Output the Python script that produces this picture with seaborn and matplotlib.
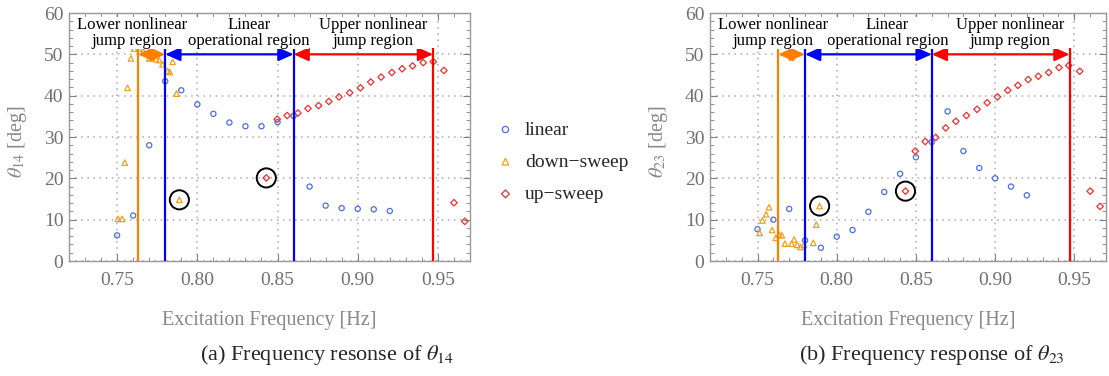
import numpy as np
import pandas as pd
import matplotlib
matplotlib.use("Agg")
import matplotlib.pyplot as plt
from matplotlib.ticker import MultipleLocator
import seaborn as sns

# theta_14 (left panel)
lin14_f = [0.75, 0.76, 0.77, 0.78, 0.79, 0.80, 0.81, 0.82, 0.83, 0.84, 0.85, 0.86,
           0.87, 0.88, 0.89, 0.90, 0.91, 0.92]
lin14_v = [6.2, 11.0, 28.0, 43.5, 41.3, 37.9, 35.6, 33.5, 32.6, 32.6, 33.6, 35.1,
           18.0, 13.4, 12.8, 12.6, 12.5, 12.1]
down14_f = [0.7506, 0.7531, 0.7548, 0.7565, 0.7586, 0.7606, 0.7638, 0.7665, 0.7700,
            0.7742, 0.7762, 0.7783, 0.7815, 0.7829, 0.7846, 0.7870, 0.7888]
down14_v = [10.2, 10.2, 23.8, 41.9, 49.0, 51.4, 51.4, 50.6, 49.0,
            48.8, 48.6, 47.6, 46.0, 45.7, 48.2, 40.5, 14.8]
up14_f = [0.8430, 0.8498, 0.8560, 0.8627, 0.8690, 0.8756, 0.8820, 0.8883, 0.8950,
          0.9017, 0.9081, 0.9146, 0.9213, 0.9277, 0.9342, 0.9408, 0.9471, 0.9537,
          0.9600, 0.9667]
up14_v = [20.1, 34.3, 35.2, 35.8, 36.9, 37.6, 38.6, 39.7, 40.7,
          41.9, 43.3, 44.5, 45.6, 46.5, 47.2, 48.0, 48.2, 46.1,
          14.1, 9.6]
circled14 = [(0.7888, 14.8), (0.8430, 20.1)]

# theta_23 (right panel)
lin23_f = [0.75, 0.76, 0.77, 0.78, 0.79, 0.80, 0.81, 0.82, 0.83, 0.84, 0.85, 0.86,
           0.87, 0.88, 0.89, 0.90, 0.91, 0.92]
lin23_v = [7.7, 10.0, 12.6, 5.0, 3.2, 5.9, 7.5, 11.9, 16.7, 21.1, 25.1, 28.8,
           36.2, 26.6, 22.5, 20.0, 18.0, 15.9]
down23_f = [0.7513, 0.7531, 0.7554, 0.7573, 0.7592, 0.7615, 0.7636, 0.7654, 0.7673,
            0.7715, 0.7731, 0.7750, 0.7771, 0.7794, 0.7852, 0.7871, 0.7892]
down23_v = [6.8, 9.8, 11.3, 13.0, 7.5, 5.6, 6.4, 6.2, 4.2,
            4.2, 5.2, 3.9, 3.4, 3.9, 4.4, 8.8, 13.3]
up23_f = [0.8434, 0.8496, 0.8559, 0.8625, 0.8688, 0.8752, 0.8819, 0.8886, 0.8950,
          0.9015, 0.9080, 0.9144, 0.9209, 0.9273, 0.9338, 0.9403, 0.9465, 0.9534,
          0.9600, 0.9663]
up23_v = [16.9, 26.6, 28.9, 29.9, 32.2, 33.8, 35.2, 36.7, 38.3,
          39.7, 41.3, 42.5, 43.9, 44.7, 45.6, 46.8, 47.3, 45.9,
          16.9, 13.2]
circled23 = [(0.7892, 13.3), (0.8434, 16.9)]

# region boundaries and labels
bounds = [0.763, 0.78, 0.86, 0.947]
bound_colors = ['#ff8000', '#0000ff', '#0000ff', '#ff0000']
region_x = [0.7595, 0.832, 0.9095]
region_text = ['Lower nonlinear\njump region', 'Linear\noperational region',
               'Upper nonlinear\njump region']
arrow_spans = [(0.763, 0.78, '#ff8000'), (0.78, 0.86, '#0000ff'), (0.86, 0.947, '#ff0000')]
arrow_y = 50

sweep_names = ['linear', 'down\u2212sweep', 'up\u2212sweep']
sweep_colors = ['#4a6fe3', '#f0a020', '#ee3030']
sweep_markers = ['o', '^', 'D']
sweep_sizes = [14, 16, 11]

sns.set_style('ticks')
plt.rcParams['font.family'] = ['Liberation Serif', 'DejaVu Serif']
plt.rcParams['mathtext.fontset'] = 'stix'

fig = plt.figure(figsize=(11.09, 3.76), dpi=100)
ax1 = fig.add_axes([69 / 1109, 1 - 261 / 376, 401 / 1109, 248 / 376])
ax2 = fig.add_axes([710 / 1109, 1 - 261 / 376, 396 / 1109, 248 / 376])

gray = '#808080'


def draw_panel(ax, series, circled, ylabel):
    for (f, v), name, c, m, s in zip(series, sweep_names, sweep_colors,
                                     sweep_markers, sweep_sizes):
        sns.scatterplot(x=f, y=v, ax=ax, marker=m, s=s, facecolor='none',
                        edgecolor=c, linewidth=0.9, label=name, zorder=3)
    cx, cy = zip(*circled)
    ax.scatter(cx, cy, s=190, facecolor='none', edgecolor='black', linewidth=1.4, zorder=4)

    for b, c in zip(bounds, bound_colors):
        ax.vlines(b, 0, 51.5, color=c, lw=1.6, zorder=5)
    for a, b, c in arrow_spans:
        ax.annotate('', xy=(b, arrow_y), xytext=(a, arrow_y),
                    arrowprops=dict(arrowstyle='<|-|>,head_length=0.6,head_width=0.27',
                                    color=c, lw=1.6, mutation_scale=15,
                                    shrinkA=0, shrinkB=0), zorder=6)
    for k, (x, t) in enumerate(zip(region_x, region_text)):
        ax.text(x, 55.2, t, ha='center', va='center', fontsize=12, color='black',
                linespacing=0.95, zorder=9 - k,
                bbox=dict(facecolor='white', edgecolor='none', pad=0))

    ax.set_xlim(0.72, 0.97)
    ax.set_ylim(0, 60)
    ax.xaxis.set_major_locator(MultipleLocator(0.05))
    ax.xaxis.set_minor_locator(MultipleLocator(0.01))
    ax.yaxis.set_major_locator(MultipleLocator(10))
    ax.yaxis.set_minor_locator(MultipleLocator(2))
    ax.set_xticks([0.75, 0.80, 0.85, 0.90, 0.95])
    ax.set_xticklabels(['0.75', '0.80', '0.85', '0.90', '0.95'])
    ax.grid(True, which='major', color='#aaaaaa', linestyle=(0, (1, 3)), lw=1.1)
    ax.tick_params(which='both', direction='in', top=True, right=True,
                   colors=gray, labelcolor='#707070', labelsize=14)
    ax.tick_params(which='major', length=5, width=0.8)
    ax.tick_params(which='minor', length=3, width=0.6)
    ax.tick_params(axis='x', pad=8)
    ax.tick_params(axis='y', pad=4)
    for sp in ax.spines.values():
        sp.set_color('#999999')
        sp.set_linewidth(1.0)
    ax.set_xlabel('Excitation Frequency [Hz]', fontsize=14.5, color='#888888')
    ax.set_ylabel(ylabel, fontsize=14.5, color='#888888')
    ax.xaxis.set_label_coords(0.5, -0.20)
    ax.yaxis.set_label_coords(-0.10, 0.48)
    ax.get_legend().remove()


draw_panel(ax1, [(lin14_f, lin14_v), (down14_f, down14_v), (up14_f, up14_v)],
           circled14, r'$\theta_{14}$ [deg]')
draw_panel(ax2, [(lin23_f, lin23_v), (down23_f, down23_v), (up23_f, up23_v)],
           circled23, r'$\theta_{23}$ [deg]')

handles, labels = ax1.get_legend_handles_labels()
fig.legend(handles[:3], labels[:3], loc='center left',
           bbox_to_anchor=(486 / 1109, 1 - 162 / 376), frameon=False,
           fontsize=14, handlelength=1.0, handletextpad=0.5, labelspacing=0.75,
           borderpad=0, markerscale=1.2)

fig.text(327 / 1109, 1 - 355 / 376, r'(a) Frequency resonse of $\theta_{14}$',
         ha='center', va='center', fontsize=16)
fig.text(932 / 1109, 1 - 355 / 376, r'(b) Frequency response of $\theta_{23}$',
         ha='center', va='center', fontsize=16)

fig.savefig('out.png', dpi=100)
